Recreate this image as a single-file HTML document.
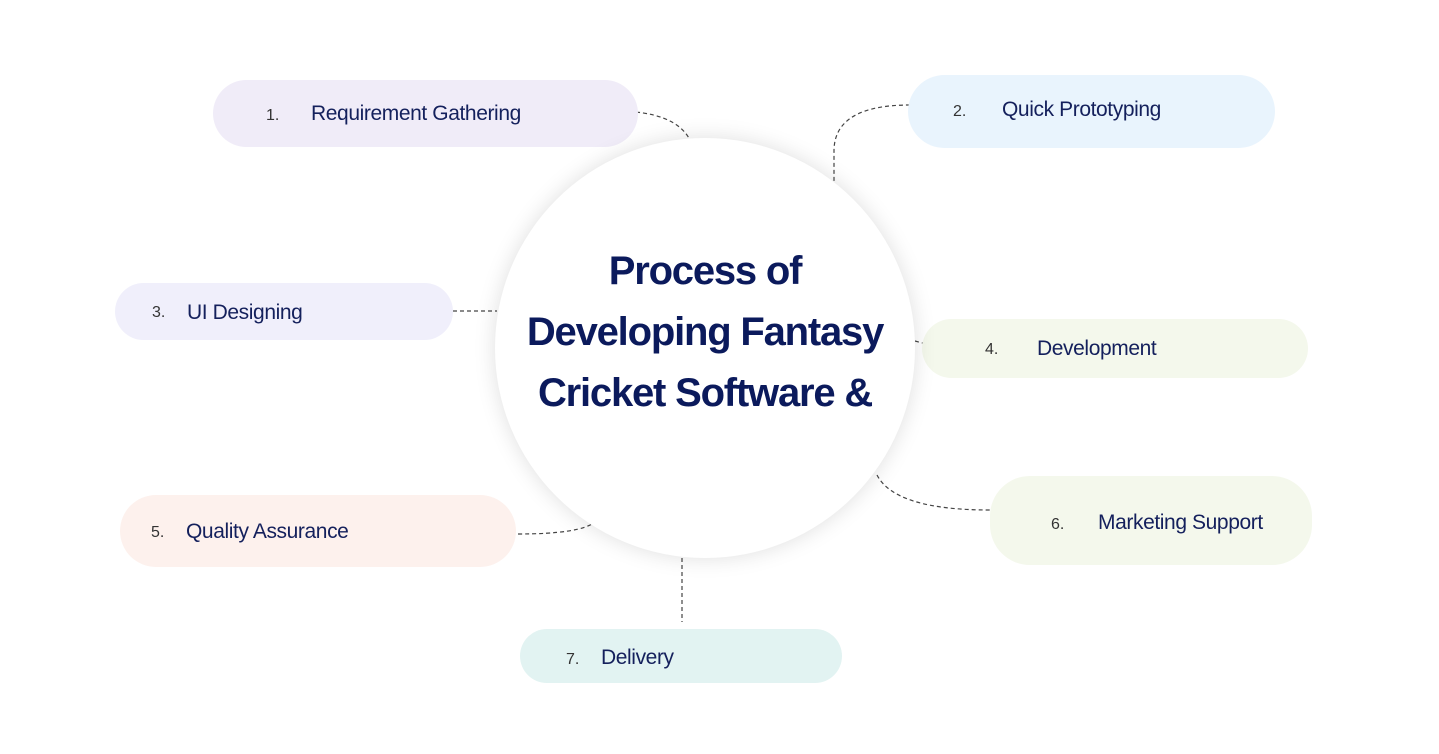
<!DOCTYPE html>
<html><head><meta charset="utf-8"><style>
body{margin:0;width:1439px;height:754px;background:#fff;position:relative;overflow:hidden;font-family:"Liberation Sans",sans-serif}
.p{position:absolute;border-radius:40px}
.t{position:absolute;font-size:21px;color:#14205c;letter-spacing:-0.4px;white-space:nowrap}
.n{position:absolute;font-size:16px;color:#333;white-space:nowrap}
.c{position:absolute;left:495px;top:138px;width:420px;height:420px;border-radius:50%;background:#fff;box-shadow:0 0 22px rgba(0,0,0,0.13)}
.h{position:absolute;left:495px;width:420px;text-align:center;font-weight:bold;font-size:40px;color:#0b1a5c;letter-spacing:-1.2px;white-space:nowrap}
</style></head><body>
<svg width="1439" height="754" style="position:absolute;left:0;top:0">
<g fill="none" stroke="#444" stroke-width="1.2" stroke-dasharray="4,3">
<path d="M615 111 Q675 111 690 140"/>
<path d="M910 105 Q835 105 834 150 L834 183"/>
<path d="M453 311 L497 311"/>
<path d="M915 341 L930 345"/>
<path d="M518 534 Q580 534 595 522"/>
<path d="M877 475 Q895 510 990 510"/>
<path d="M682 558 L682 622"/>
</g></svg>
<div class="p" style="left:213px;top:80px;width:425px;height:67px;background:#f0ecf8"></div>
<div class="p" style="left:908px;top:75px;width:367px;height:73px;background:#e9f4fd"></div>
<div class="p" style="left:115px;top:283px;width:338px;height:57px;background:#f0effb"></div>
<div class="p" style="left:922px;top:319px;width:386px;height:59px;background:#f4f8ec"></div>
<div class="p" style="left:120px;top:495px;width:396px;height:72px;background:#fdf1ed"></div>
<div class="p" style="left:990px;top:476px;width:322px;height:89px;background:#f4f8ec"></div>
<div class="p" style="left:520px;top:629px;width:322px;height:54px;background:#e2f3f2"></div>
<div class="c"></div>
<div class="h" style="top:249px">Process of</div>
<div class="h" style="top:310px">Developing Fantasy</div>
<div class="h" style="top:371px">Cricket Software &amp;</div>
<div class="n" style="left:266px;top:107px">1.</div><div class="t" style="left:311px;top:102px">Requirement Gathering</div>
<div class="n" style="left:953px;top:103px">2.</div><div class="t" style="left:1002px;top:98px">Quick Prototyping</div>
<div class="n" style="left:152px;top:304px">3.</div><div class="t" style="left:187px;top:301px">UI Designing</div>
<div class="n" style="left:985px;top:341px">4.</div><div class="t" style="left:1037px;top:337px">Development</div>
<div class="n" style="left:151px;top:524px">5.</div><div class="t" style="left:186px;top:520px">Quality Assurance</div>
<div class="n" style="left:1051px;top:516px">6.</div><div class="t" style="left:1098px;top:511px">Marketing Support</div>
<div class="n" style="left:566px;top:651px">7.</div><div class="t" style="left:601px;top:646px">Delivery</div>
</body></html>
